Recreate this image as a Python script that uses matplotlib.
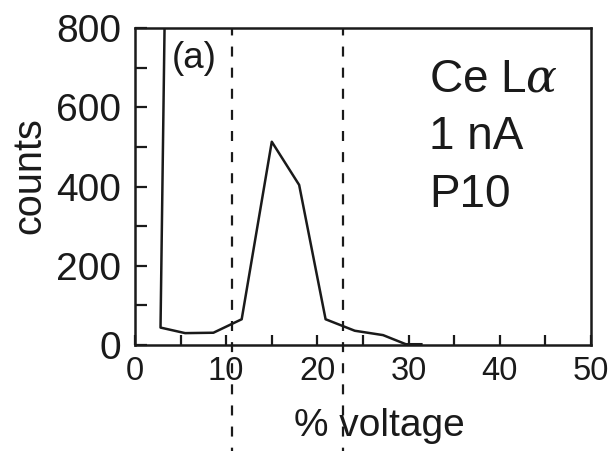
import matplotlib
matplotlib.use("Agg")
import matplotlib.pyplot as plt
from matplotlib.ticker import MultipleLocator

plt.rcParams['font.family'] = ['Liberation Sans', 'DejaVu Sans']
plt.rcParams['mathtext.fontset'] = 'custom'
plt.rcParams['mathtext.it'] = 'DejaVu Serif:italic'

# pulse height distribution
voltage = [3.3, 2.8, 5.5, 8.6, 11.7, 15.0, 18.0, 20.9, 24.1, 27.2, 29.7, 31.4]
counts = [900, 44, 30, 31, 65, 513, 404, 65, 36, 25, 2, 2]

# window limits (dashed lines)
window = [10.67, 22.84]

notes = ["Ce L$\\alpha$", "1 nA", "P10"]

fig = plt.figure(figsize=(6.13, 4.51), dpi=100)
ax = fig.add_axes([0.2202, 0.2350, 0.7439, 0.7029])

ax.plot(voltage, counts, color='#1a1a1a', lw=1.8, clip_on=True)

for w in window:
    ax.axvline(w, ymin=-0.335, ymax=1.0, color='#1a1a1a', lw=1.6,
               ls=(3, (4.5, 5.0)), clip_on=False)

ax.set_xlim(0, 50)
ax.set_ylim(0, 800)
ax.xaxis.set_major_locator(MultipleLocator(10))
ax.xaxis.set_minor_locator(MultipleLocator(5))
ax.yaxis.set_major_locator(MultipleLocator(200))
ax.yaxis.set_minor_locator(MultipleLocator(100))

for s in ax.spines.values():
    s.set_linewidth(1.8)
    s.set_color('#1a1a1a')

ax.tick_params(axis='x', which='both', direction='in', length=7, width=1.6,
               labelsize=23.5, pad=8, colors='#1a1a1a', top=False)
ax.tick_params(axis='y', which='both', direction='in', length=8.5, width=1.6,
               labelsize=28, pad=10, colors='#1a1a1a', right=False)

ax.set_ylabel("counts", fontsize=28.5, color='#1a1a1a')
ax.yaxis.set_label_coords(-0.19, 0.535)
ax.set_xlabel("% voltage", fontsize=28, color='#1a1a1a')
ax.xaxis.set_label_coords(0.535, -0.2)

ax.text(0.08, 0.96, "(a)", transform=ax.transAxes, fontsize=26.5,
        va='top', ha='left', color='#1a1a1a')

for i, t in enumerate(notes):
    ax.text(0.645, 0.80 - i * 0.183, t, transform=ax.transAxes, fontsize=33,
            va='baseline', ha='left', color='#1a1a1a')

fig.savefig("out.png", dpi=100)
